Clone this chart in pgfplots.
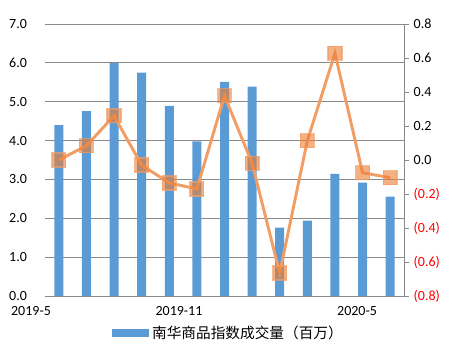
\documentclass[border=0pt]{standalone}
\usepackage{pgfplots}
\pgfplotsset{compat=1.18}
\usepackage{fontspec}
\setmainfont{Carlito}
\newfontfamily\cjk{Noto Sans CJK SC}
\definecolor{barblue}{RGB}{91,155,213}
\definecolor{lineorange}{RGB}{242,157,100}
\definecolor{markorange}{RGB}{237,125,49}
\definecolor{gridgray}{RGB}{137,137,137}
\begin{document}
\begin{tikzpicture}
\begin{axis}[
  at={(0,0)}, anchor=south west,
  scale only axis, width=269.25pt, height=204pt,
  xmin=-0.5, xmax=12.5, ymin=0, ymax=7,
  axis x line*=bottom, axis y line*=left,
  axis line style={draw=none},
  x axis line style={draw=gridgray, line width=0.6pt},
  ytick={0,1,...,7}, xtick=\empty,
  ymajorgrids, grid style={gridgray, line width=0.6pt},
  major tick length=0pt,
  yticklabel style={font=\fontsize{10.5}{12}\selectfont, xshift=-10pt},
  /pgf/number format/assume math mode=true,
  /pgf/number format/fixed, /pgf/number format/fixed zerofill, /pgf/number format/precision=1,
  clip=false,
  legend style={at={(0.5125,-0.136)}, anchor=center, draw=none, fill=none, font=\cjk\fontsize{11}{13}\selectfont, inner sep=0pt},
  legend image code/.code={\fill[barblue] (0pt,-3pt) rectangle (27.75pt,3pt);},
]
\addplot[ybar, bar width=6.75pt, fill=barblue, draw=none] coordinates {
(0,4.40) (1,4.76) (2,5.99) (3,5.75) (4,4.89) (5,3.98) (6,5.51) (7,5.39) (8,1.76) (9,1.94) (10,3.14) (11,2.92) (12,2.56)};
\addlegendentry{南华商品指数成交量（百万）}
\node[anchor=base, font=\fontsize{10.5}{12}\selectfont] at ([yshift=-14.25pt]axis cs:-1.007,0) {2019-5};
\node[anchor=base, font=\fontsize{10.5}{12}\selectfont] at ([yshift=-14.25pt]axis cs:4.352,0) {2019-11};
\node[anchor=base, font=\fontsize{10.5}{12}\selectfont] at ([yshift=-14.25pt]axis cs:10.80,0) {2020-5};
\end{axis}
\begin{axis}[
  at={(0,0)}, anchor=south west,
  scale only axis, width=269.25pt, height=204pt,
  xmin=-0.5, xmax=12.5, ymin=-0.8, ymax=0.8,
  axis y line*=right, axis x line=none,
  y axis line style={draw=gridgray, line width=0.6pt},
  ytick={-0.8,-0.6,...,0.8},
  yticklabels={{\textcolor{red}{(0.8)}},{\textcolor{red}{(0.6)}},{\textcolor{red}{(0.4)}},{\textcolor{red}{(0.2)}},0.0,0.2,0.4,0.6,0.8},
  tick align=outside, major tick length=3.75pt,
  tick style={gridgray, line width=0.6pt},
  yticklabel style={font=\fontsize{10.5}{12}\selectfont, xshift=0pt},
  clip=false,
]
\addplot[color=lineorange, line width=2.2pt, mark=square*, mark size=5.2pt,
  mark options={fill=markorange, fill opacity=0.6, draw=lineorange, draw opacity=0.7, line width=1pt}] coordinates {
(0,0.0) (1,0.084) (2,0.26) (3,-0.03) (4,-0.135) (5,-0.17) (6,0.378) (7,-0.02) (8,-0.665) (9,0.114) (10,0.628) (11,-0.075) (12,-0.104)};
\end{axis}
\pgfresetboundingbox
\path[use as bounding box] (-33.75pt,-48.75pt) rectangle (308.25pt,222pt);
\end{tikzpicture}
\end{document}
